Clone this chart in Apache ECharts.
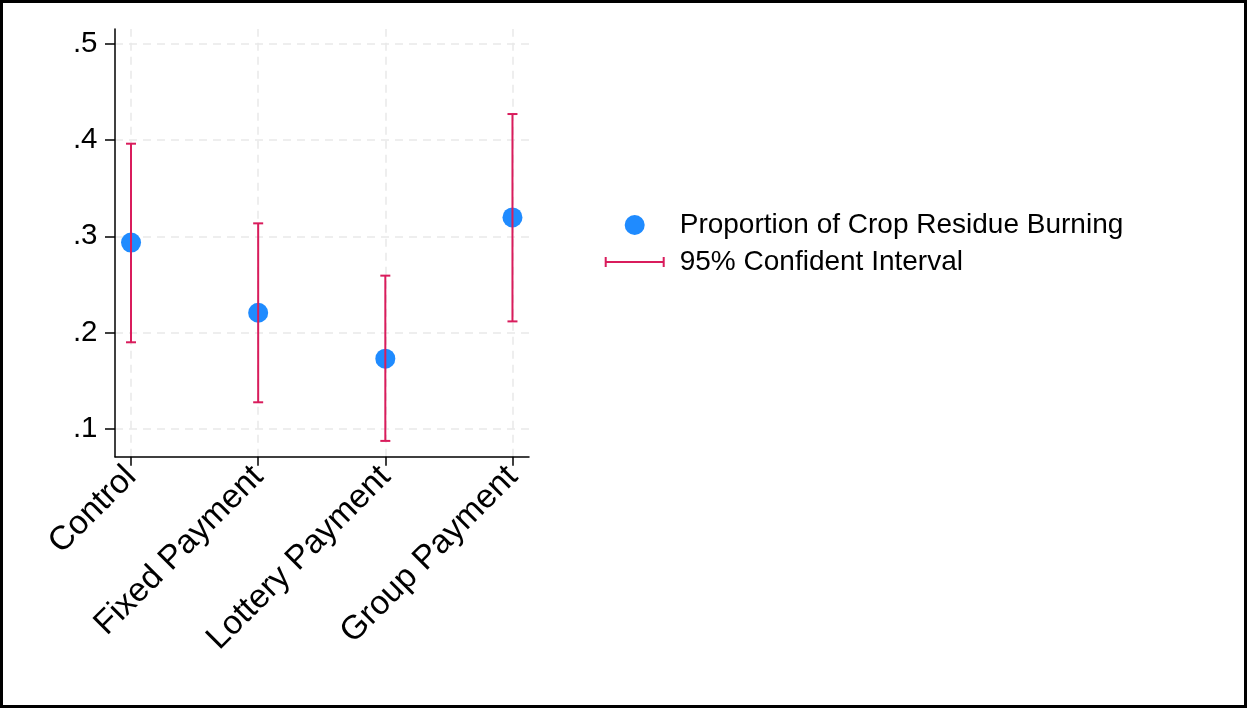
<!DOCTYPE html>
<html>
<head>
<meta charset="utf-8">
<script src="https://cdn.jsdelivr.net/npm/echarts@6/dist/echarts.min.js"></script>
<style>
html,body{margin:0;padding:0;background:#fff;}
#chart{width:1247px;height:708px;}
</style>
</head>
<body>
<div id="chart"></div>
<script>
const categories = ['Control', 'Fixed Payment', 'Lottery Payment', 'Group Payment'];
const means = [0.2935, 0.2207, 0.1730, 0.3197];
const lower = [0.1900, 0.1277, 0.0876, 0.2117];
const upper = [0.3962, 0.3135, 0.2592, 0.4270];
const yTicks = [0.1, 0.2, 0.3, 0.4, 0.5];
const xTicks = [0, 1, 2, 3];

const RED = '#d91c5c';
const BLUE = '#1f8bff';
const GRID = '#e9e9e9';
const FONT = 'Liberation Sans, Arial, sans-serif';

const chart = echarts.init(document.getElementById('chart'));

const gridLines = yTicks.map(v => ({ yAxis: v })).concat(xTicks.map(v => ({ xAxis: v })));

const option = {
  backgroundColor: '#fff',
  animation: false,
  textStyle: { fontFamily: FONT },
  graphic: [{
    type: 'rect',
    shape: { x: 1.5, y: 1.5, width: 1244, height: 705 },
    style: { fill: 'none', stroke: '#000', lineWidth: 3 },
    silent: true
  }],
  grid: { left: 115, right: 718, top: 29, bottom: 251.3, containLabel: false },
  xAxis: {
    type: 'value',
    min: -0.126,
    max: 3.13,
    axisLine: { show: true, onZero: false, lineStyle: { color: '#000', width: 1.5 } },
    axisTick: { show: true, length: 9, customValues: xTicks, lineStyle: { color: '#000', width: 1.5 } },
    axisLabel: {
      customValues: xTicks,
      rotate: 45,
      margin: 15,
      fontSize: 33.5,
      color: '#000',
      fontFamily: FONT,
      formatter: v => categories[Math.round(v)] || ''
    },
    splitLine: { show: false }
  },
  yAxis: {
    type: 'value',
    min: 0.0712,
    max: 0.5153,
    axisLine: { show: true, onZero: false, lineStyle: { color: '#000', width: 1.5 } },
    axisTick: { show: true, length: 10, customValues: yTicks, lineStyle: { color: '#000', width: 1.5 } },
    axisLabel: {
      customValues: yTicks,
      margin: 17.5,
      fontSize: 29.5,
      color: '#000',
      fontFamily: FONT,
      formatter: v => '.' + Math.round(v * 10)
    },
    splitLine: { show: false }
  },
  legend: {
    orient: 'vertical',
    left: 604.7,
    top: 210,
    padding: 0,
    itemWidth: 60,
    itemHeight: 20,
    itemGap: 7,
    textStyle: { fontSize: 28, color: '#000', fontFamily: FONT, lineHeight: 30, padding: [0, 0, 0, 10] },
    data: [
      { name: 'Proportion of Crop Residue Burning', icon: 'circle', itemStyle: { color: BLUE } },
      { name: '95% Confident Interval', icon: 'path://M0,9h60v2h-60z M0,5h2v10h-2z M58,5h2v10h-2z', itemStyle: { color: RED } }
    ]
  },
  series: [
    {
      type: 'line',
      name: 'grid',
      data: [],
      silent: true,
      z: 0,
      markLine: {
        silent: true,
        z: 0,
        symbol: 'none',
        label: { show: false },
        lineStyle: { color: GRID, type: [8, 6], width: 1.5 },
        data: gridLines
      }
    },
    {
      type: 'scatter',
      name: 'Proportion of Crop Residue Burning',
      data: means.map((m, i) => [i, m]),
      symbol: 'circle',
      symbolSize: 20,
      itemStyle: { color: BLUE, opacity: 1 },
      z: 2
    },
    {
      type: 'custom',
      name: '95% Confident Interval',
      data: categories.map((c, i) => [i, lower[i], upper[i]]),
      itemStyle: { color: RED },
      z: 3,
      renderItem: function (params, api) {
        const x = api.value(0);
        const lo = api.coord([x, api.value(1)]);
        const hi = api.coord([x, api.value(2)]);
        const hw = 5;
        const st = { stroke: RED, lineWidth: 2 };
        return {
          type: 'group',
          children: [
            { type: 'line', shape: { x1: lo[0], y1: lo[1], x2: hi[0], y2: hi[1] }, style: st },
            { type: 'line', shape: { x1: lo[0] - hw, y1: lo[1], x2: lo[0] + hw, y2: lo[1] }, style: st },
            { type: 'line', shape: { x1: hi[0] - hw, y1: hi[1], x2: hi[0] + hw, y2: hi[1] }, style: st }
          ]
        };
      }
    }
  ]
};

chart.setOption(option);
</script>
</body>
</html>
